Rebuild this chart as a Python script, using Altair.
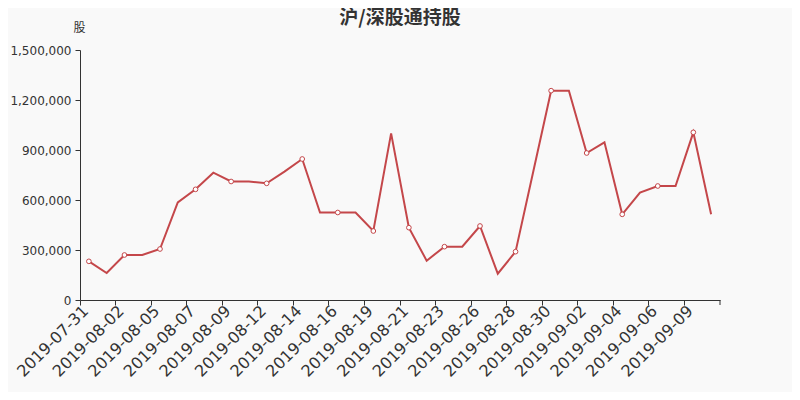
import altair as alt
import pandas as pd

dates = ["2019-07-31", "2019-08-01", "2019-08-02", "2019-08-03", "2019-08-05", "2019-08-06",
         "2019-08-07", "2019-08-08", "2019-08-09", "2019-08-10", "2019-08-12", "2019-08-13",
         "2019-08-14", "2019-08-15", "2019-08-16", "2019-08-17", "2019-08-19", "2019-08-20",
         "2019-08-21", "2019-08-22", "2019-08-23", "2019-08-24", "2019-08-26", "2019-08-27",
         "2019-08-28", "2019-08-29", "2019-08-30", "2019-08-31", "2019-09-02", "2019-09-03",
         "2019-09-04", "2019-09-05", "2019-09-06", "2019-09-07", "2019-09-09", "2019-09-10"]
values = [232000, 162000, 270000, 270000, 306000, 586000,
          664000, 764000, 711000, 711000, 700000, 770000,
          846000, 525000, 525000, 525000, 414000, 1000000,
          434000, 236000, 320000, 320000, 444000, 158000,
          290000, 773000, 1256000, 1256000, 882000, 946000,
          514000, 644000, 684000, 684000, 1006000, 514000]
y_ticks = [0, 300000, 600000, 900000, 1200000, 1500000]
title_text = "沪/深股通持股"
unit_text = "股"

df = pd.DataFrame({"date": dates, "value": values, "idx": list(range(len(dates)))})
n_last = len(dates) - 1

LINE = "#c4474a"
TXT = "#333333"

x_scale = alt.Scale(type="band", paddingInner=0, paddingOuter=0, domain=dates)
x_axis = alt.Axis(
    values=dates[::2], bandPosition=0, labelOffset=-3,
    labelAngle=315, labelAlign="right", labelBaseline="middle",
    labelFontSize=16, labelColor=TXT, labelFont="DejaVu Sans", labelPadding=3,
    tickColor=TXT, domainColor=TXT, tickSize=5, title=None, grid=False,
    labelOverlap=False,
)

x_enc = alt.X("date:O", sort=dates, scale=x_scale, bandPosition=0.5, axis=x_axis)
y_enc = alt.Y(
    "value:Q",
    scale=alt.Scale(domain=[0, 1500000], nice=False),
    axis=alt.Axis(
        values=y_ticks, format=",.0f", grid=False,
        labelFontSize=12, labelColor=TXT, labelFont="DejaVu Sans", labelPadding=4,
        tickColor=TXT, domainColor=TXT, tickSize=5,
        title=unit_text, titleAngle=0, titleX=-1, titleY=-16, titleAlign="center",
        titleBaseline="bottom", titleFont="Noto Sans CJK SC", titleFontSize=12,
        titleFontWeight="normal", titleColor=TXT,
    ),
)

line = alt.Chart(df).mark_line(color=LINE, strokeWidth=2).encode(x=x_enc, y=y_enc)
pts = alt.Chart(df).transform_filter("datum.idx % 2 == 0").mark_point(
    filled=True, fill="white", stroke=LINE, strokeWidth=1, size=22, opacity=1
).encode(x=x_enc, y=y_enc)

# closing axis tick at the end of the last category band
end_tick = alt.Chart(df).transform_filter(f"datum.idx == {n_last}").mark_rule(
    color=TXT, strokeWidth=1
).encode(
    x=alt.X("date:O", sort=dates, scale=x_scale, bandPosition=1, axis=x_axis),
    y=alt.value(250), y2=alt.value(255),
)

chart = alt.layer(line, pts, end_tick).properties(
    width=640, height=250,
    title=alt.TitleParams(title_text, fontSize=19, fontWeight="bold", color=TXT,
                          font="Noto Sans CJK SC", offset=-7, anchor="middle"),
    autosize=alt.AutoSizeParams(type="none"),
    padding={"left": 72, "top": 42, "right": 72, "bottom": 92},
    background="#f9f9f9",
).configure_view(stroke=None)

chart.save("out.html", embed_options={"renderer": "svg", "actions": False})
